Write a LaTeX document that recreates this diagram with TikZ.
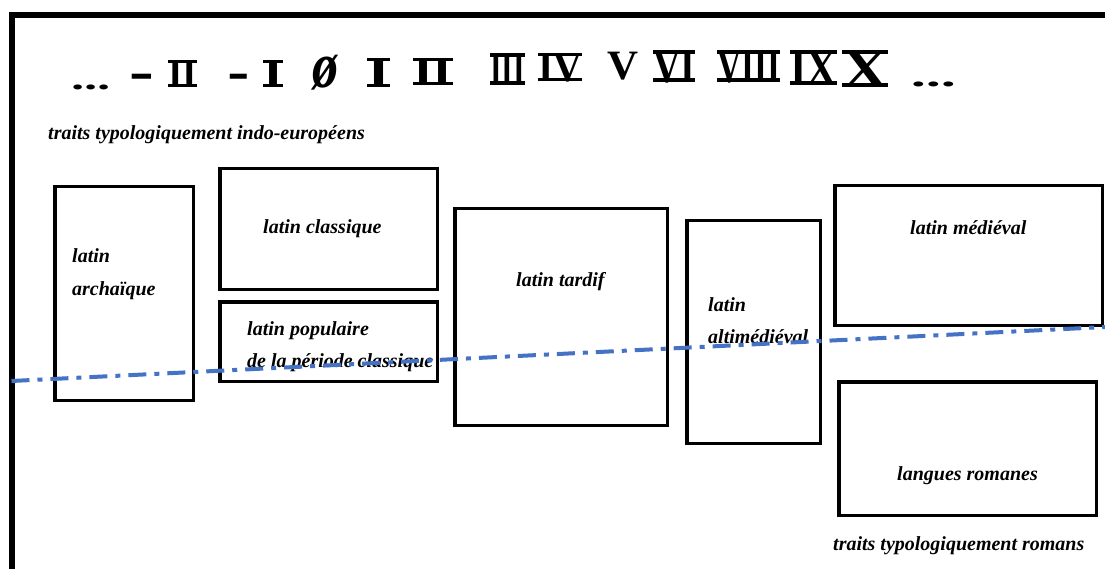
\documentclass[tikz,border=0pt]{standalone}
\usepackage{fontspec}
\setmainfont{Liberation Serif}
\usepackage{graphicx}
\definecolor{lineblue}{RGB}{68,114,196}
\newcommand\rnum[1]{\setbox0\hbox{\bfseries #1}\hbox{\rlap{\rule{\wd0}{0.08em}}\rlap{\rule[0.6em]{\wd0}{0.08em}}\box0}}
\newcommand\fitto[3]{\resizebox*{#1pt}{#2pt}{#3}}
\begin{document}
\begin{tikzpicture}[x=1pt,y=-1pt,
  box/.style={draw=black,line width=3.5pt,inner sep=0pt,rectangle},
  lbl/.style={font=\fontsize{20}{24}\selectfont\bfseries\itshape,inner sep=0pt,anchor=base west},
  num/.style={inner sep=0pt,anchor=center},
  dashsym/.style={font=\fontsize{30}{30}\selectfont\bfseries,inner sep=0pt,anchor=base},
  frame/.style={line width=6pt,line join=miter},
  divider/.style={draw=lineblue,line width=4pt,dash pattern=on 18pt off 8pt on 5pt off 8pt}
]
\useasboundingbox (0,0) rectangle (1105,569);

% frame
\coordinate (fb) at (11.5,569);
\coordinate (fc) at (11.5,15.5);
\coordinate (fr) at (1105,15.5);
\draw[frame] (fb) -- (fc) -- (fr);

% time line of centuries
\node[num] (d1) at (92.5,87.5) {\fitto{39}{5}{\bfseries\itshape ...}};
\node[dashsym] (m1) at (142,94) {\scalebox{1.25}[2.4]{–}};
\node[num] (c1) at (182.5,73.5) {\fitto{29}{27}{\rnum{II}}};
\node[dashsym] (m2) at (238.5,93.5) {\scalebox{1.1}[2.4]{–}};
\node[num] (c2) at (273,73.5) {\fitto{20}{27}{\rnum{I}}};
\node[num] (c3) at (325,72.5) {\fitto{26}{35}{\bfseries\itshape ø}};
\node[num] (c4) at (378.5,72.5) {\fitto{23}{29}{\rnum{I}}};
\node[num] (c5) at (433,71.5) {\fitto{40}{27}{\rnum{II}}};
\node[num] (c6) at (507.5,69) {\fitto{35}{32}{\rnum{III}}};
\node[num] (c7) at (560,67.5) {\fitto{44}{29}{\rnum{IV}}};
\node[num] (c8) at (622.5,66) {\fitto{31}{28}{\bfseries V}};
\node[num] (c9) at (674,66.5) {\fitto{42}{33}{\rnum{VI}}};
\node[num] (c10) at (748.5,66.5) {\fitto{63}{33}{\rnum{VIII}}};
\node[num] (c11) at (813.5,67.5) {\fitto{47}{35}{\rnum{IX}}};
\node[num] (c12) at (865,68.5) {\fitto{46}{37}{\rnum{X}}};
\node[num] (d2) at (935.5,84) {\fitto{45}{5}{\bfseries\itshape ...}};

\node[lbl] (tie) at (48,140) {traits typologiquement indo-européens};
\node[lbl] (tro) at (833,550) {traits typologiquement romans};

% boxes
\node[box,minimum width=138.5pt,minimum height=213.5pt] (arch) at (124,293.5) {};
\node[box,minimum width=217.5pt,minimum height=120.5pt] (clas) at (328.5,229) {};
\node[box,minimum width=217.5pt,minimum height=79.5pt] (pop) at (328.5,341.5) {};
\node[box,minimum width=212.5pt,minimum height=216.5pt] (tard) at (561,317) {};
\node[box,minimum width=133.5pt,minimum height=222.5pt] (alt) at (753.5,332) {};
\node[box,minimum width=267.5pt,minimum height=139.5pt] (med) at (968.5,255.5) {};
\node[box,minimum width=257.5pt,minimum height=133.5pt] (rom) at (967.5,448.5) {};

% labels
\node[lbl] (t1a) at (72,263) {latin};
\node[lbl] (t1b) at (72,295) {archaïque};
\node[lbl] (t2) at (263,234) {latin classique};
\node[lbl] (t3a) at (247,335) {latin populaire};
\node[lbl] (t3b) at (247,367) {de la période classique};
\node[lbl] (t4) at (516,287) {latin tardif};
\node[lbl] (t5a) at (708,311) {latin};
\node[lbl] (t5b) at (708,343) {altimédiéval};
\node[lbl] (t6) at (910,235) {latin médiéval};
\node[lbl] (t7) at (897,480) {langues romanes};

% dash-dot divider
\coordinate (bl) at (11.5,381);
\coordinate (br) at (1105,327);
\draw[divider] (bl) -- (br);
\end{tikzpicture}
\end{document}
